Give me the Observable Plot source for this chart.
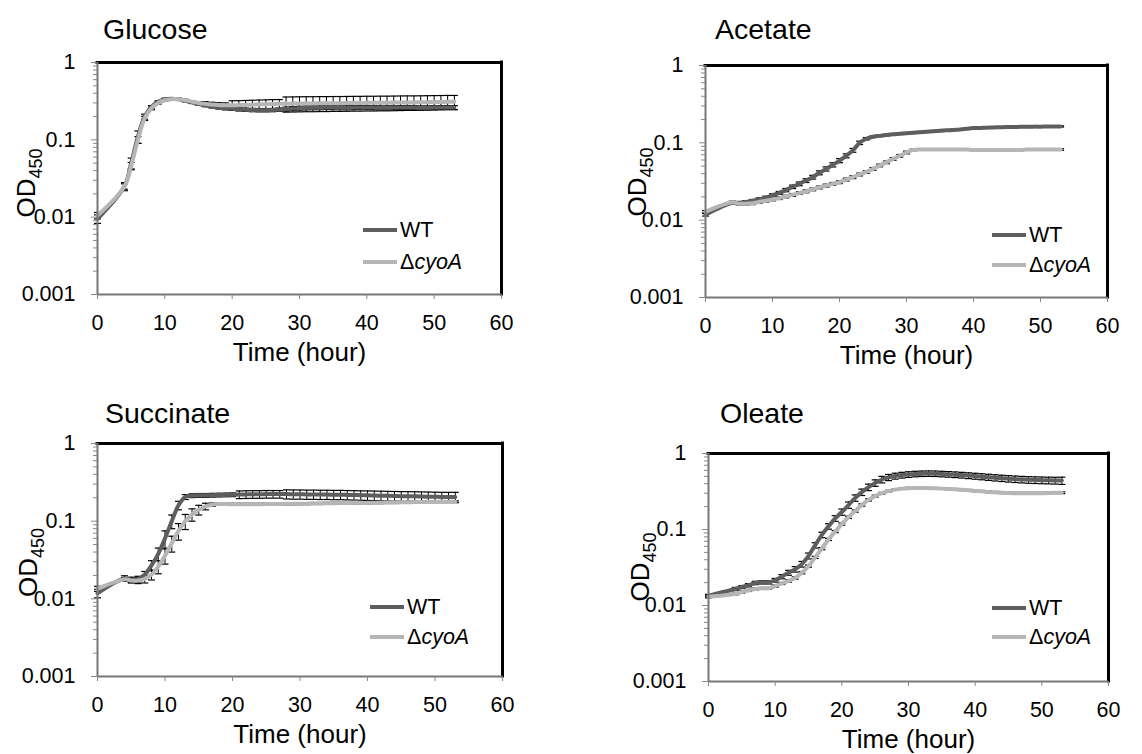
<!DOCTYPE html>
<html>
<head>
<meta charset="utf-8">
<script src="https://cdn.jsdelivr.net/npm/d3@7"></script>
<script src="https://cdn.jsdelivr.net/npm/@observablehq/plot@0.6"></script>
<style>
  html, body { margin: 0; padding: 0; background: #fff; }
  #root { position: relative; width: 1142px; height: 754px; overflow: hidden; font-family: "Liberation Sans", Arial, sans-serif; color: #000; }
  .title { position: absolute; font-size: 28.5px; line-height: 28.5px; white-space: nowrap; }
  .leg { position: absolute; display: flex; align-items: center; font-size: 21.5px; line-height: 26px; white-space: nowrap; }
  .sw { display: inline-block; width: 34px; height: 4px; margin-right: 3px; }
  .pane { position: absolute; }
  .pane svg g[aria-label*="tick label"] text { font-size: 21.5px !important; }
</style>
</head>
<body>
<div id="root"></div>
<script>
// ---------------- data ----------------
const TIME = [0, 4, 5, 6, 7, 8, 9, 10, 11, 12, 13, 14, 15, 16, 17, 18, 19, 20, 21, 22, 23, 24, 25, 26, 27, 28, 29, 30,
  31, 32, 33, 34, 35, 36, 37, 38, 39, 40, 41, 42, 43, 44, 45, 46, 47, 48, 49, 50, 51, 52, 53];

const SERIES = ["WT", "ΔcyoA"];
const PANELS = ["Glucose", "Acetate", "Succinate", "Oleate"];

const X_TICKS = [0, 10, 20, 30, 40, 50, 60];
const X_LABELS = ["0", "10", "20", "30", "40", "50", "60"];
const Y_TICKS = [0.001, 0.01, 0.1, 1];
const Y_LABELS = ["0.001", "0.01", "0.1", "1"];
const Y_MINOR = [0.002, 0.003, 0.004, 0.005, 0.006, 0.007, 0.008, 0.009,
  0.02, 0.03, 0.04, 0.05, 0.06, 0.07, 0.08, 0.09,
  0.2, 0.3, 0.4, 0.5, 0.6, 0.7, 0.8, 0.9];

// Glucose
const glucoseWT = [0.0095, 0.025, 0.05, 0.11, 0.2, 0.265, 0.31, 0.335, 0.34, 0.335, 0.32, 0.305, 0.29, 0.28, 0.27, 0.262, 0.256, 0.252, 0.248, 0.245, 0.243, 0.242, 0.242, 0.243, 0.246, 0.25, 0.254, 0.257,
  0.259, 0.26, 0.26, 0.261, 0.261, 0.26, 0.26, 0.261, 0.262, 0.262, 0.261, 0.26, 0.26, 0.261, 0.262, 0.262, 0.261, 0.26, 0.26, 0.261, 0.262, 0.262, 0.262];
const glucoseWTErr = [0.0012, 0.003, 0.008, 0.02, 0.015, 0.012, 0.01, 0.01, 0.01, 0.01, 0.01, 0.01, 0.01, 0.012, 0.012, 0.012, 0.012, 0.012, 0.012, 0.012, 0.012, 0.012, 0.012, 0.012, 0.012, 0.015, 0.015, 0.015,
  0.015, 0.015, 0.015, 0.015, 0.015, 0.015, 0.015, 0.015, 0.015, 0.015, 0.015, 0.015, 0.015, 0.015, 0.015, 0.015, 0.015, 0.015, 0.015, 0.015, 0.015, 0.015, 0.015];
const glucoseMut = [0.0105, 0.025, 0.046, 0.1, 0.19, 0.255, 0.3, 0.325, 0.335, 0.335, 0.325, 0.312, 0.3, 0.292, 0.286, 0.282, 0.28, 0.28, 0.281, 0.283, 0.285, 0.287, 0.289, 0.291, 0.292, 0.293, 0.294, 0.295,
  0.296, 0.296, 0.297, 0.297, 0.298, 0.298, 0.299, 0.3, 0.3, 0.301, 0.301, 0.302, 0.302, 0.303, 0.304, 0.305, 0.305, 0.306, 0.307, 0.308, 0.309, 0.31, 0.31];
const glucoseMutErr = [0.001, 0.002, 0.005, 0.01, 0.012, 0.01, 0.01, 0.01, 0.01, 0.01, 0.01, 0.01, 0.01, 0.02, 0.02, 0.02, 0.02, 0.04, 0.04, 0.04, 0.04, 0.04, 0.04, 0.04, 0.04, 0.065, 0.065, 0.065,
  0.065, 0.065, 0.065, 0.065, 0.065, 0.065, 0.065, 0.065, 0.065, 0.065, 0.065, 0.065, 0.065, 0.065, 0.065, 0.065, 0.065, 0.065, 0.065, 0.065, 0.065, 0.065, 0.065];

// Acetate
const acetateWT = [0.0118, 0.0168, 0.0168, 0.0172, 0.0178, 0.0186, 0.0196, 0.021, 0.0225, 0.0245, 0.027, 0.0295, 0.0325, 0.036, 0.041, 0.046, 0.052, 0.059, 0.068, 0.08, 0.1, 0.113, 0.12, 0.123, 0.126, 0.129, 0.131, 0.133,
  0.135, 0.137, 0.139, 0.141, 0.143, 0.145, 0.147, 0.149, 0.152, 0.155, 0.156, 0.157, 0.158, 0.159, 0.16, 0.16, 0.161, 0.161, 0.162, 0.162, 0.163, 0.163, 0.163];
const acetateWTErr = [0.0005, 0.0006, 0.0006, 0.0007, 0.0007, 0.0008, 0.0008, 0.0009, 0.001, 0.0012, 0.0014, 0.0016, 0.0018, 0.002, 0.0024, 0.0028, 0.0032, 0.0036, 0.004, 0.0045, 0.005, 0.004, 0.003, 0.003, 0.003, 0.003, 0.003, 0.003,
  0.003, 0.003, 0.003, 0.003, 0.003, 0.003, 0.003, 0.003, 0.003, 0.003, 0.003, 0.003, 0.003, 0.003, 0.003, 0.003, 0.003, 0.003, 0.003, 0.003, 0.003, 0.003, 0.003];
const acetateMut = [0.0128, 0.017, 0.0163, 0.0163, 0.0165, 0.0172, 0.0178, 0.0185, 0.0193, 0.0202, 0.0212, 0.0224, 0.0236, 0.025, 0.0265, 0.028, 0.0295, 0.031, 0.0335, 0.036, 0.039, 0.042, 0.046, 0.051, 0.056, 0.062, 0.068, 0.075,
  0.081, 0.082, 0.082, 0.082, 0.082, 0.082, 0.082, 0.082, 0.082, 0.081, 0.081, 0.081, 0.081, 0.081, 0.081, 0.081, 0.081, 0.082, 0.082, 0.082, 0.082, 0.082, 0.082];
const acetateMutErr = [0.0005, 0.0006, 0.0006, 0.0006, 0.0006, 0.0007, 0.0007, 0.0007, 0.0008, 0.0008, 0.0009, 0.0009, 0.001, 0.001, 0.0011, 0.0012, 0.0012, 0.0013, 0.0014, 0.0015, 0.0016, 0.0017, 0.0019, 0.002, 0.0022, 0.0025, 0.0027, 0.003,
  0.002, 0.002, 0.002, 0.002, 0.002, 0.002, 0.002, 0.002, 0.002, 0.002, 0.002, 0.002, 0.002, 0.002, 0.002, 0.002, 0.002, 0.002, 0.002, 0.002, 0.002, 0.002, 0.002];

// Succinate
const succinateWT = [0.0118, 0.0183, 0.0175, 0.018, 0.0205, 0.027, 0.038, 0.06, 0.1, 0.16, 0.205, 0.213, 0.215, 0.215, 0.216, 0.217, 0.218, 0.219, 0.22, 0.221, 0.222, 0.222, 0.223, 0.223, 0.223, 0.223, 0.222, 0.222,
  0.221, 0.221, 0.22, 0.22, 0.219, 0.219, 0.218, 0.217, 0.216, 0.215, 0.214, 0.213, 0.212, 0.211, 0.21, 0.21, 0.209, 0.208, 0.207, 0.206, 0.205, 0.205, 0.205];
const succinateWTErr = [0.0015, 0.0015, 0.0015, 0.0015, 0.002, 0.004, 0.007, 0.015, 0.02, 0.02, 0.015, 0.012, 0.012, 0.012, 0.012, 0.012, 0.012, 0.012, 0.025, 0.025, 0.025, 0.025, 0.025, 0.025, 0.025, 0.03, 0.03, 0.03,
  0.03, 0.03, 0.03, 0.03, 0.03, 0.03, 0.03, 0.03, 0.03, 0.03, 0.03, 0.03, 0.03, 0.03, 0.03, 0.03, 0.03, 0.03, 0.03, 0.03, 0.03, 0.03, 0.03];
const succinateMut = [0.0135, 0.0178, 0.0172, 0.0172, 0.018, 0.0205, 0.026, 0.036, 0.052, 0.075, 0.1, 0.122, 0.14, 0.155, 0.163, 0.166, 0.166, 0.165, 0.165, 0.165, 0.165, 0.165, 0.166, 0.166, 0.166, 0.167, 0.167, 0.168,
  0.168, 0.169, 0.169, 0.17, 0.17, 0.171, 0.171, 0.172, 0.172, 0.172, 0.173, 0.173, 0.174, 0.174, 0.175, 0.175, 0.176, 0.176, 0.177, 0.177, 0.178, 0.178, 0.178];
const succinateMutErr = [0.001, 0.001, 0.001, 0.0015, 0.002, 0.003, 0.005, 0.008, 0.012, 0.018, 0.022, 0.022, 0.02, 0.015, 0.008, 0.005, 0.005, 0.005, 0.005, 0.005, 0.005, 0.005, 0.005, 0.005, 0.005, 0.005, 0.005, 0.005,
  0.005, 0.005, 0.005, 0.005, 0.005, 0.005, 0.005, 0.005, 0.005, 0.005, 0.005, 0.005, 0.005, 0.005, 0.005, 0.005, 0.005, 0.005, 0.005, 0.005, 0.005, 0.005, 0.005];

// Oleate
const oleateWT = [0.0135, 0.0165, 0.0175, 0.0185, 0.0198, 0.0202, 0.0202, 0.0215, 0.024, 0.027, 0.03, 0.035, 0.045, 0.062, 0.085, 0.11, 0.14, 0.17, 0.21, 0.26, 0.31, 0.36, 0.41, 0.455, 0.485, 0.505, 0.52, 0.53,
  0.538, 0.543, 0.545, 0.543, 0.538, 0.533, 0.527, 0.52, 0.512, 0.504, 0.496, 0.488, 0.48, 0.473, 0.466, 0.46, 0.455, 0.451, 0.448, 0.445, 0.443, 0.441, 0.44];
const oleateWTErr = [0.0005, 0.0008, 0.0008, 0.0009, 0.001, 0.001, 0.001, 0.0012, 0.0015, 0.002, 0.0025, 0.003, 0.004, 0.005, 0.007, 0.009, 0.012, 0.016, 0.02, 0.025, 0.03, 0.035, 0.04, 0.045, 0.045, 0.045, 0.045, 0.045,
  0.045, 0.045, 0.045, 0.045, 0.045, 0.045, 0.045, 0.045, 0.045, 0.045, 0.045, 0.045, 0.045, 0.045, 0.045, 0.045, 0.045, 0.045, 0.045, 0.045, 0.045, 0.045, 0.048];
const oleateMut = [0.013, 0.0142, 0.015, 0.0158, 0.0165, 0.0168, 0.0168, 0.018, 0.0195, 0.021, 0.023, 0.027, 0.033, 0.043, 0.056, 0.074, 0.094, 0.118, 0.145, 0.175, 0.21, 0.245, 0.275, 0.3, 0.32, 0.335, 0.345, 0.35,
  0.352, 0.352, 0.35, 0.348, 0.345, 0.342, 0.338, 0.333, 0.328, 0.322, 0.318, 0.312, 0.308, 0.305, 0.302, 0.3, 0.3, 0.3, 0.3, 0.3, 0.302, 0.305, 0.305];
const oleateMutErr = [0.0004, 0.0004, 0.0005, 0.0005, 0.0005, 0.0005, 0.0005, 0.0006, 0.0006, 0.0007, 0.0008, 0.0009, 0.0011, 0.0014, 0.0018, 0.0024, 0.003, 0.004, 0.005, 0.006, 0.007, 0.008, 0.008, 0.008, 0.008, 0.008, 0.008, 0.008,
  0.008, 0.008, 0.008, 0.008, 0.008, 0.008, 0.008, 0.008, 0.008, 0.008, 0.008, 0.008, 0.008, 0.008, 0.008, 0.008, 0.008, 0.008, 0.008, 0.008, 0.008, 0.008, 0.008];

// ---------------- layout & style ----------------
const COLORS = {"WT": "#5e5e5e", "ΔcyoA": "#b6b6b6"};
const FONT = '"Liberation Sans", Arial, sans-serif';
const TICK_FONT = 21.5;
const M = {left: 97, top: 12, right: 22, bottom: 80};
const LAYOUT = [
  {name: "Glucose",   wt: glucoseWT,   wtE: glucoseWTErr,   mu: glucoseMut,   muE: glucoseMutErr,
   frame: [97, 62, 501, 294],  title: [103, 15], leg: [363, 230, 262], yLab: [35, 5]},
  {name: "Acetate",   wt: acetateWT,   wtE: acetateWTErr,   mu: acetateMut,   muE: acetateMutErr,
   frame: [705, 65, 1107, 297], title: [715, 15], leg: [992, 235, 265], yLab: [38, 1]},
  {name: "Succinate", wt: succinateWT, wtE: succinateWTErr, mu: succinateMut, muE: succinateMutErr,
   frame: [97, 443, 502, 676], title: [105, 399], leg: [370, 607, 637], yLab: [37, 3]},
  {name: "Oleate",    wt: oleateWT,    wtE: oleateWTErr,    mu: oleateMut,    muE: oleateMutErr,
   frame: [708, 453, 1108, 681], title: [720, 399], leg: [992, 608, 637], yLab: [38, 0]}
];

const cap = {draw(ctx) { ctx.moveTo(-3.5, 0); ctx.lineTo(3.5, 0); }};
const root = document.getElementById("root");

for (const P of LAYOUT) {
  const [L, T, R, B] = P.frame;
  const rows = [];
  TIME.forEach((t, i) => {
    rows.push({t, v: P.wt[i], e: P.wtE[i], s: SERIES[0]});
    rows.push({t, v: P.mu[i], e: P.muE[i], s: SERIES[1]});
  });
  const w = M.left + (R - L) + M.right;
  const h = M.top + (B - T) + M.bottom;
  const seriesLine = (s) => Plot.line(rows.filter(d => d.s === s), {
    x: "t", y: "v", stroke: COLORS[s], strokeWidth: 4, curve: "catmull-rom"
  });
  const svg = Plot.plot({
    width: w, height: h,
    marginLeft: M.left, marginTop: M.top, marginRight: M.right, marginBottom: M.bottom,
    style: {fontFamily: FONT, fontSize: TICK_FONT + "px", color: "#000", background: "transparent", overflow: "visible"},
    x: {domain: [0, 60]},
    y: {type: "log", domain: [0.001, 1]},
    marks: [
      Plot.ruleX(rows, {x: "t", y1: d => d.v - d.e, y2: d => d.v + d.e, stroke: "#000", strokeWidth: 1}),
      Plot.dot(rows, {x: "t", y: d => d.v + d.e, symbol: cap, stroke: "#000", fill: "none", strokeWidth: 1.2}),
      Plot.dot(rows, {x: "t", y: d => d.v - d.e, symbol: cap, stroke: "#000", fill: "none", strokeWidth: 1.2}),
      seriesLine(SERIES[0]),
      seriesLine(SERIES[1]),
      Plot.ruleY([1], {stroke: "#000", strokeWidth: 3, strokeLinecap: "square"}),
      Plot.ruleX([60], {stroke: "#000", strokeWidth: 3, strokeLinecap: "square"}),
      Plot.ruleX([0], {stroke: "#777", strokeWidth: 2}),
      Plot.ruleY([0.001], {stroke: "#777", strokeWidth: 2}),
      Plot.axisY({ticks: Y_MINOR, tickSize: 4, text: null, stroke: "#888", label: null}),
      Plot.axisY({ticks: Y_TICKS, tickSize: 6, tickPadding: 16, stroke: "#888", fill: "#000", fontSize: TICK_FONT,
        tickFormat: d => Y_LABELS[Y_TICKS.indexOf(d)], label: null}),
      Plot.axisX({ticks: X_TICKS, tickSize: 5, tickPadding: 15, stroke: "#888", fill: "#000", fontSize: TICK_FONT,
        tickFormat: d => X_LABELS[X_TICKS.indexOf(d)], label: null}),
      Plot.text(["Time (hour)"], {frameAnchor: "bottom", dy: 58, fontSize: 26, lineAnchor: "middle", fill: "#000"})
    ]
  });
  // make sure tick labels use the intended size
  d3.select(svg).selectAll('g[aria-label$="tick label"]').attr("font-size", TICK_FONT)
    .selectAll("text").attr("font-size", TICK_FONT).style("font-size", TICK_FONT + "px");

  // y-axis title with subscript
  const midY = M.top + (B - T) / 2 + P.yLab[1];
  const lab = d3.select(svg).append("text")
    .attr("transform", `translate(${P.yLab[0]},${midY}) rotate(-90)`)
    .attr("text-anchor", "middle")
    .attr("fill", "#000")
    .style("font-family", FONT)
    .style("font-size", "26px");
  lab.append("tspan").text("OD");
  lab.append("tspan").attr("dy", 7).style("font-size", "18px").text("450");

  const pane = document.createElement("div");
  pane.className = "pane";
  pane.style.left = (L - M.left) + "px";
  pane.style.top = (T - M.top) + "px";
  pane.appendChild(svg);
  root.appendChild(pane);

  const title = document.createElement("div");
  title.className = "title";
  title.style.left = P.title[0] + "px";
  title.style.top = P.title[1] + "px";
  title.textContent = P.name;
  root.appendChild(title);

  [SERIES[0], SERIES[1]].forEach((s, k) => {
    const row = document.createElement("div");
    row.className = "leg";
    row.style.left = P.leg[0] + "px";
    row.style.top = (P.leg[1 + k] - 13) + "px";
    const sw = document.createElement("span");
    sw.className = "sw";
    sw.style.background = COLORS[s];
    row.appendChild(sw);
    const tx = document.createElement("span");
    if (s === "WT") tx.textContent = "WT";
    else tx.innerHTML = "Δ<i>cyoA</i>";
    row.appendChild(tx);
    root.appendChild(row);
  });
}
</script>
</body>
</html>
